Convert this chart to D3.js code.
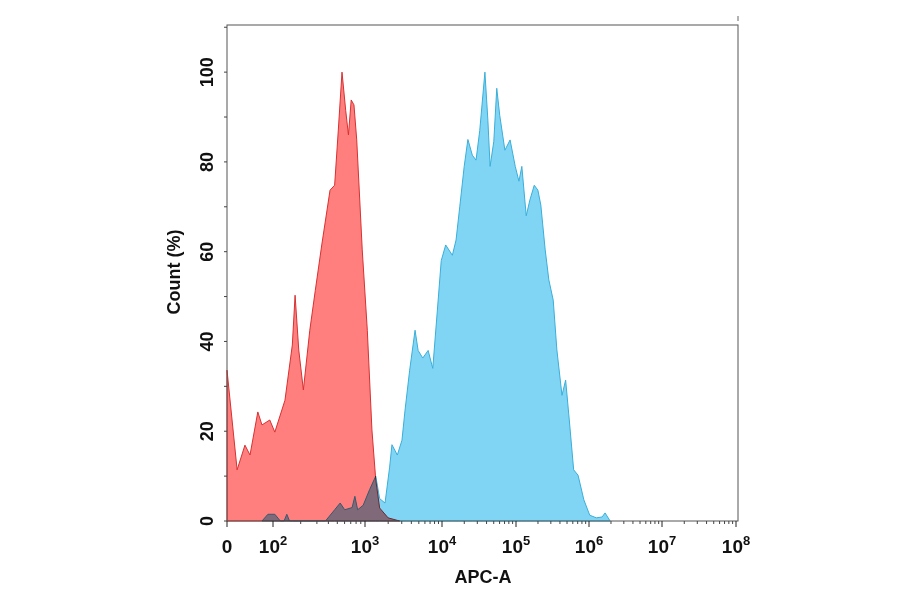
<!DOCTYPE html><html><head><meta charset="utf-8"><script src="https://d3js.org/d3.v7.min.js"></script>
<style>body{margin:0;background:#fff}</style></head><body><svg id="c" width="900" height="594"></svg><script>
const redX=[1.0,1.22,1.39,1.5,1.67,1.76,1.93,2.02,2.13,2.21,2.24,2.28,2.33,2.40,2.46,2.53,2.62,2.67,2.71,2.75,2.79,2.82,2.85,2.88,2.91,2.97,3.03,3.09,3.14,3.19,3.30,3.45];
const redY=[33.6,11.4,16.9,14.7,24.3,21.4,22.5,19.8,26.9,39.2,50.3,38.1,29.2,42.5,51.4,61.5,73.7,74.8,87.1,100,91.5,86,93.8,92.7,84.9,60.4,42.5,20.3,9.1,2.9,0.7,0];
const blueX=[1.76,1.89,2.02,2.08,2.12,2.15,2.18,2.57,2.67,2.73,2.78,2.86,2.89,2.92,2.98,3.06,3.14,3.19,3.26,3.32,3.35,3.42,3.48,3.52,3.58,3.65,3.69,3.75,3.82,3.88,3.94,3.99,4.05,4.14,4.19,4.24,4.30,4.35,4.41,4.46,4.51,4.58,4.62,4.65,4.70,4.74,4.78,4.85,4.92,4.99,5.04,5.08,5.14,5.19,5.25,5.30,5.34,5.40,5.45,5.51,5.56,5.63,5.68,5.73,5.79,5.85,5.93,6.01,6.10,6.18,6.22,6.29];
const blueY=[0,1.5,1.5,0,0,1.5,0,0,2.5,4,2.5,3,5.5,2.5,3.5,7,10,5,4,12,17,14.7,18,24.7,33.6,42.5,38,36.3,38,34,47,58,61.5,59.2,62.6,70,79,85,81.5,80.4,87,100,89.3,79,84.6,96.4,90.4,82.6,84.9,79,75.7,79,68,71.5,74.8,73.7,70.4,60.4,53.7,49.2,38.1,28,31.4,22.5,11.4,10.2,4.7,1.3,0.7,0.9,1.8,0];
const xTickVals=[1,2,3,4,5,6,7,8];
const xTickLabels=["0","2","3","4","5","6","7","8"];
const yTicks=[0,20,40,60,80,100];
const svg=d3.select("#c");
const L=227,R=738,T=25,B=521;
const x=d3.scaleLinear().domain([1,2,3,4,5,6,7,8]).range([227,273,365,442,516,589,662,736]);
const y=d3.scaleLinear().domain([0,110.5]).range([B,T]);
const area=d3.area().x(d=>x(d[0])).y0(B).y1(d=>y(d[1])).curve(d3.curveLinear);
const red=redX.map((v,i)=>[v,redY[i]]), blue=blueX.map((v,i)=>[v,blueY[i]]);
svg.append("path").datum(red).attr("d",area).attr("fill","#ff7f7f").attr("stroke","#d93030").attr("stroke-width",1);
svg.append("path").datum(blue).attr("d",area).attr("fill","#80d5f5").attr("stroke","#3aaed8").attr("stroke-width",1).style("mix-blend-mode","multiply");
svg.append("rect").attr("x",L).attr("y",T).attr("width",R-L).attr("height",B-T).attr("fill","none").attr("stroke","#555").attr("stroke-width",1);
// x ticks
const minor=[];
for(let d=2;d<8;d++)for(let k=2;k<10;k++){const v=d+Math.log10(k);minor.push(v);}
svg.selectAll(".mx").data(minor).enter().append("line").attr("x1",d=>x(d)).attr("x2",d=>x(d)).attr("y1",B).attr("y2",B+3).attr("stroke","#444");
svg.selectAll(".Mx").data(xTickVals).enter().append("line").attr("x1",d=>x(d)).attr("x2",d=>x(d)).attr("y1",B).attr("y2",B+6).attr("stroke","#222");
const xl=svg.selectAll(".xl").data(xTickVals).enter().append("text").attr("x",d=>x(d)).attr("y",553).attr("text-anchor","middle").attr("font-family","Liberation Sans, Arial").attr("font-weight","bold").attr("font-size",19).attr("fill","#111");
xl.each(function(d,i){const t=d3.select(this);if(i===0){t.text("0");}else{t.append("tspan").text("10");t.append("tspan").attr("dy",-8).attr("font-size",13).text(xTickLabels[i]);}});
// y ticks
const ym=d3.range(0,111,10);
svg.selectAll(".my").data(ym).enter().append("line").attr("x1",L-3).attr("x2",L).attr("y1",d=>y(d)).attr("y2",d=>y(d)).attr("stroke","#444");
svg.selectAll(".yl").data(yTicks).enter().append("text").attr("transform",d=>`translate(213,${y(d)}) rotate(-90)`).attr("text-anchor","middle").attr("font-family","Liberation Sans, Arial").attr("font-weight","bold").attr("font-size",18).attr("fill","#111").text(d=>d);
svg.append("text").attr("transform","translate(180,272) rotate(-90)").attr("text-anchor","middle").attr("font-family","Liberation Sans, Arial").attr("font-weight","bold").attr("font-size",18).attr("fill","#111").text("Count  (%)");
svg.append("text").attr("x",483).attr("y",583).attr("text-anchor","middle").attr("font-family","Liberation Sans, Arial").attr("font-weight","bold").attr("font-size",18).attr("fill","#111").text("APC-A");
svg.append("line").attr("x1",738).attr("x2",738).attr("y1",16).attr("y2",21).attr("stroke","#666");
</script></body></html>
